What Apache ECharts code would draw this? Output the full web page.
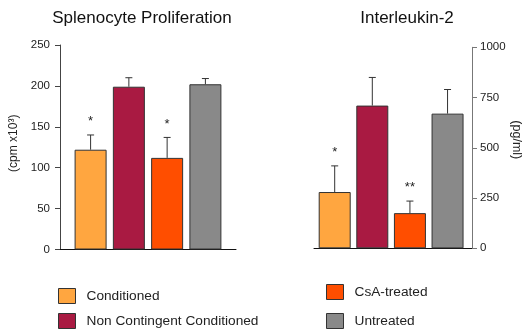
<!DOCTYPE html>
<html>
<head>
<meta charset="utf-8">
<script src="https://cdn.jsdelivr.net/npm/echarts@6/dist/echarts.min.js"></script>
<style>
  html, body { margin: 0; padding: 0; background: #fff; }
  #main { width: 524px; height: 334px; }
</style>
</head>
<body>
<div id="main"></div>
<script>
  "use strict";
  // groups, shared by both panels
  const groups = ["Conditioned", "Non Contingent Conditioned", "CsA-treated", "Untreated"];
  const colors = ["#ffa640", "#a91a42", "#ff4e00", "#898989"];

  // Splenocyte proliferation (cpm x10^3)
  const prolifMean = [122, 199, 112, 202];
  const prolifHigh = [140, 210, 137, 209];
  const prolifSig = ["*", "", "*", ""];

  // Interleukin-2 (pg/ml)
  const il2Mean = [280, 710, 175, 670];
  const il2High = [410, 850, 235, 790];
  const il2Sig = ["*", "", "**", ""];

  const FONT = "Liberation Sans, Arial, sans-serif";

  const chart = echarts.init(document.getElementById("main"));

  function errorRenderer(sig) {
    return function (params, api) {
      const x = api.value(0);
      const lo = api.coord([x, api.value(1)]);
      const hi = api.coord([x, api.value(2)]);
      const style = { stroke: "#333", lineWidth: 1 };
      const children = [
        { type: "line", shape: { x1: lo[0], y1: lo[1], x2: hi[0], y2: hi[1] }, style: style },
        { type: "line", shape: { x1: hi[0] - 3.5, y1: hi[1], x2: hi[0] + 3.5, y2: hi[1] }, style: style }
      ];
      const s = sig[params.dataIndex];
      if (s) {
        children.push({
          type: "text",
          style: {
            text: s, x: hi[0], y: hi[1] - 7,
            fill: "#222", font: "13px " + FONT,
            textAlign: "center", textVerticalAlign: "bottom"
          }
        });
      }
      return { type: "group", children: children };
    };
  }

  function barSeries(means, axisIndex) {
    return groups.map(function (name, i) {
      return {
        name: name,
        type: "bar",
        xAxisIndex: axisIndex,
        yAxisIndex: axisIndex,
        barWidth: 32,
        barGap: "-100%",
        data: [[i, means[i]]],
        itemStyle: { color: colors[i], borderColor: "#333", borderWidth: 1 },
        silent: true
      };
    });
  }

  function errSeries(means, highs, sig, axisIndex) {
    return {
      type: "custom",
      xAxisIndex: axisIndex,
      yAxisIndex: axisIndex,
      z: 5,
      silent: true,
      renderItem: errorRenderer(sig),
      data: means.map(function (m, i) { return [i, m, highs[i]]; })
    };
  }

  const hiddenX = function (min, max, idx) {
    return {
      type: "value", gridIndex: idx, min: min, max: max,
      axisLine: { show: true, onZero: false, lineStyle: { color: "#111", width: 1 } },
      axisTick: { show: false }, axisLabel: { show: false }, splitLine: { show: false }
    };
  };

  const legendItem = function (name, left, top) {
    return {
      left: left, top: top, itemWidth: 17, itemHeight: 15,
      icon: "rect", selectedMode: false, data: [name],
      itemStyle: { borderColor: "#333", borderWidth: 1 },
      textStyle: { fontFamily: FONT, fontSize: 13.7, color: "#222", padding: [0, 0, 0, 6] }
    };
  };

  const option = {
    animation: false,
    textStyle: { fontFamily: FONT },
    title: [
      { text: "Splenocyte Proliferation", left: 137, top: 5, textAlign: "center",
        textStyle: { fontFamily: FONT, fontSize: 17, fontWeight: "normal", color: "#111" } },
      { text: "Interleukin-2", left: 402, top: 5, textAlign: "center",
        textStyle: { fontFamily: FONT, fontSize: 17, fontWeight: "normal", color: "#111" } }
    ],
    legend: [
      legendItem(groups[0], 53, 283),
      legendItem(groups[1], 53, 308),
      legendItem(groups[2], 321, 279),
      legendItem(groups[3], 321, 308)
    ],
    grid: [
      { left: 60, right: 288, top: 45, bottom: 84.5 },
      { left: 314, right: 50, top: 47.3, bottom: 85.7 }
    ],
    xAxis: [hiddenX(-0.8, 3.8, 0), hiddenX(-0.55, 3.65, 1)],
    yAxis: [
      {
        type: "value", gridIndex: 0, min: 0, max: 250, interval: 50,
        name: "(cpm x10³)", nameLocation: "middle", nameGap: 40, nameRotate: 90,
        nameTextStyle: { fontFamily: FONT, fontSize: 12, color: "#222", padding: [0, 0, 0, 8] },
        axisLine: { show: true, onZero: false, lineStyle: { color: "#444" } },
        axisTick: { show: true, length: 5, lineStyle: { color: "#444" } },
        axisLabel: { fontFamily: FONT, fontSize: 11.5, color: "#222", margin: 10 },
        splitLine: { show: false }
      },
      {
        type: "value", gridIndex: 1, position: "right", min: 0, max: 1000, interval: 250,
        name: "(pg/ml)", nameLocation: "middle", nameGap: 38, nameRotate: -90,
        nameTextStyle: { fontFamily: FONT, fontSize: 12.5, color: "#222", padding: [0, 16, 0, 0] },
        axisLine: { show: true, onZero: false, lineStyle: { color: "#777" } },
        axisTick: { show: true, length: 5, lineStyle: { color: "#777" } },
        axisLabel: { fontFamily: FONT, fontSize: 11.5, color: "#222", margin: 8,
          formatter: function (v) { return String(v); } },
        splitLine: { show: false }
      }
    ],
    series: []
      .concat(barSeries(prolifMean, 0))
      .concat([errSeries(prolifMean, prolifHigh, prolifSig, 0)])
      .concat(barSeries(il2Mean, 1))
      .concat([errSeries(il2Mean, il2High, il2Sig, 1)])
  };

  chart.setOption(option);
</script>
</body>
</html>
